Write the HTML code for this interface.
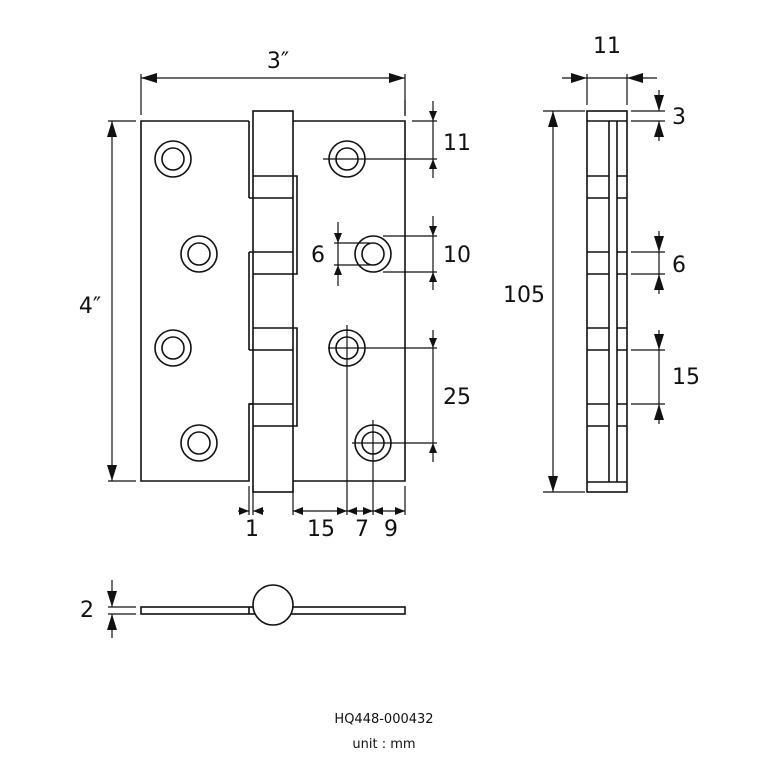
<!DOCTYPE html>
<html><head><style>html,body{margin:0;padding:0;background:#fff}svg{display:block}text{font-family:"DejaVu Sans","Liberation Sans",sans-serif;fill:#111}</style></head>
<body>
<svg width="768" height="768" viewBox="0 0 768 768" xmlns="http://www.w3.org/2000/svg">
<defs>
<marker id="a" viewBox="0 0 10 8" refX="10" refY="4" markerWidth="10" markerHeight="8" markerUnits="userSpaceOnUse" orient="auto-start-reverse"><path d="M0,0L10,4L0,8z" fill="#111"/></marker>
<marker id="b" viewBox="0 0 16 10" refX="16" refY="5" markerWidth="16" markerHeight="10" markerUnits="userSpaceOnUse" orient="auto-start-reverse"><path d="M0,0L16,5L0,10z" fill="#111"/></marker>
</defs>
<g fill="none" stroke="#111" stroke-width="1.6">
<!-- front view -->
<path d="M249,121H141V481H249V404H253M249,481V404M249,350V252M249,198V121"/>
<path d="M249,198H293M249,252H293M249,350H293M249,404H293"/>
<rect x="253" y="111" width="40" height="381"/>
<path d="M293,121H405V481H293"/>
<path d="M253,176H297V274H253M253,328H297V426H253"/>
<circle cx="173" cy="159" r="18"/><circle cx="173" cy="159" r="11"/>
<circle cx="199" cy="254" r="18"/><circle cx="199" cy="254" r="11"/>
<circle cx="173" cy="348" r="18"/><circle cx="173" cy="348" r="11"/>
<circle cx="199" cy="443" r="18"/><circle cx="199" cy="443" r="11"/>
<circle cx="347" cy="159" r="18"/><circle cx="347" cy="159" r="11"/>
<circle cx="373" cy="254" r="18"/><circle cx="373" cy="254" r="11"/>
<circle cx="347" cy="348" r="18"/><circle cx="347" cy="348" r="11"/>
<circle cx="373" cy="443" r="18"/><circle cx="373" cy="443" r="11"/>
</g>
<g fill="none" stroke="#111" stroke-width="1.2">
<!-- 3" -->
<path d="M141,74V115M405,74V115"/>
<line x1="141" y1="78" x2="405" y2="78" marker-start="url(#b)" marker-end="url(#b)"/>
<!-- 4" -->
<path d="M108,121H136M108,481H136"/>
<line x1="112" y1="121" x2="112" y2="481" marker-start="url(#b)" marker-end="url(#b)"/>
<!-- right dims -->
<path d="M412,121H437M323,159H437M383,236H437M383,272H437M328,348H437M352,443H437"/>
<line x1="433" y1="101" x2="433" y2="121" marker-end="url(#a)"/>
<line x1="433" y1="121" x2="433" y2="159"/>
<line x1="433" y1="178" x2="433" y2="159" marker-end="url(#a)"/>
<line x1="433" y1="216" x2="433" y2="236" marker-end="url(#a)"/>
<line x1="433" y1="236" x2="433" y2="272"/>
<line x1="433" y1="290" x2="433" y2="272" marker-end="url(#a)"/>
<line x1="433" y1="330" x2="433" y2="348" marker-end="url(#a)"/>
<line x1="433" y1="348" x2="433" y2="443"/>
<line x1="433" y1="443" x2="433" y2="443"/>
<line x1="433" y1="462" x2="433" y2="443" marker-end="url(#a)"/>
<!-- left 6 -->
<path d="M334,243H370M334,265H370"/>
<line x1="338" y1="222" x2="338" y2="243" marker-end="url(#a)"/>
<line x1="338" y1="243" x2="338" y2="265"/>
<line x1="338" y1="286" x2="338" y2="265" marker-end="url(#a)"/>
<!-- hole center lines -->
<path d="M347,325V515M373,420V515"/>
<path d="M405,100V116M405,486V515"/>
<!-- bottom dims -->
<path d="M249,486V515M253,486V515M293,486V515"/>
<line x1="238" y1="511" x2="249" y2="511" marker-end="url(#a)"/>
<line x1="264" y1="511" x2="253" y2="511" marker-end="url(#a)"/>
<line x1="293" y1="511" x2="347" y2="511" marker-start="url(#a)" marker-end="url(#a)"/>
<line x1="347" y1="511" x2="373" y2="511" marker-start="url(#a)" marker-end="url(#a)"/>
<line x1="373" y1="511" x2="405" y2="511" marker-start="url(#a)" marker-end="url(#a)"/>
</g>
<!-- side view -->
<g fill="none" stroke="#111" stroke-width="1.6">
<rect x="587" y="111" width="40" height="381"/>
<path d="M587,121H627M587,482H627M609,121V482M617,121V482"/>
<path d="M587,176H609M587,198H609M587,252H609M587,274H609M587,328H609M587,350H609M587,404H609M587,426H609"/>
<path d="M617,176H627M617,198H627M617,252H627M617,274H627M617,328H627M617,350H627M617,404H627M617,426H627"/>
</g>
<g fill="none" stroke="#111" stroke-width="1.2">
<path d="M587,74V105M627,74V105"/>
<line x1="562" y1="78" x2="587" y2="78" marker-end="url(#b)"/>
<line x1="587" y1="78" x2="627" y2="78"/>
<line x1="657" y1="78" x2="627" y2="78" marker-end="url(#b)"/>
<path d="M543,111H585M543,492H585"/>
<line x1="553" y1="111" x2="553" y2="492" marker-start="url(#b)" marker-end="url(#b)"/>
<path d="M631,111H665M631,121H665"/>
<line x1="659" y1="90" x2="659" y2="111" marker-end="url(#b)"/>
<line x1="659" y1="141" x2="659" y2="121" marker-end="url(#b)"/>
<path d="M631,252H665M631,274H665"/>
<line x1="659" y1="231" x2="659" y2="252" marker-end="url(#b)"/>
<line x1="659" y1="252" x2="659" y2="274"/>
<line x1="659" y1="294" x2="659" y2="274" marker-end="url(#b)"/>
<path d="M631,350H665M631,404H665"/>
<line x1="659" y1="330" x2="659" y2="350" marker-end="url(#b)"/>
<line x1="659" y1="350" x2="659" y2="404"/>
<line x1="659" y1="424" x2="659" y2="404" marker-end="url(#b)"/>
</g>
<!-- bottom view -->
<g fill="none" stroke="#111" stroke-width="1.6">
<rect x="141" y="607" width="264" height="7"/>
<path d="M249,607V614"/>
<circle cx="273" cy="605" r="20" fill="#fff"/>
</g>
<g fill="none" stroke="#111" stroke-width="1.2">
<path d="M108,607H136M108,614H136"/>
<line x1="112" y1="580" x2="112" y2="607" marker-end="url(#b)"/>
<line x1="112" y1="638" x2="112" y2="614" marker-end="url(#b)"/>
</g>
<g font-size="22">
<text x="278" y="68" text-anchor="middle">3″</text>
<text x="90" y="313" text-anchor="middle">4″</text>
<text x="457" y="150" text-anchor="middle">11</text>
<text x="457" y="262" text-anchor="middle">10</text>
<text x="318" y="262" text-anchor="middle">6</text>
<text x="457" y="404" text-anchor="middle">25</text>
<text x="252" y="536" text-anchor="middle">1</text>
<text x="321" y="536" text-anchor="middle">15</text>
<text x="362" y="536" text-anchor="middle">7</text>
<text x="391" y="536" text-anchor="middle">9</text>
<text x="607" y="53" text-anchor="middle">11</text>
<text x="679" y="124" text-anchor="middle">3</text>
<text x="679" y="272" text-anchor="middle">6</text>
<text x="686" y="384" text-anchor="middle">15</text>
<text x="524" y="302" text-anchor="middle">105</text>
<text x="87" y="617" text-anchor="middle">2</text>
</g>
<text x="384" y="723" font-size="13" text-anchor="middle">HQ448-000432</text>
<text x="384" y="748" font-size="13" text-anchor="middle">unit : mm</text>
</svg>
</body></html>
